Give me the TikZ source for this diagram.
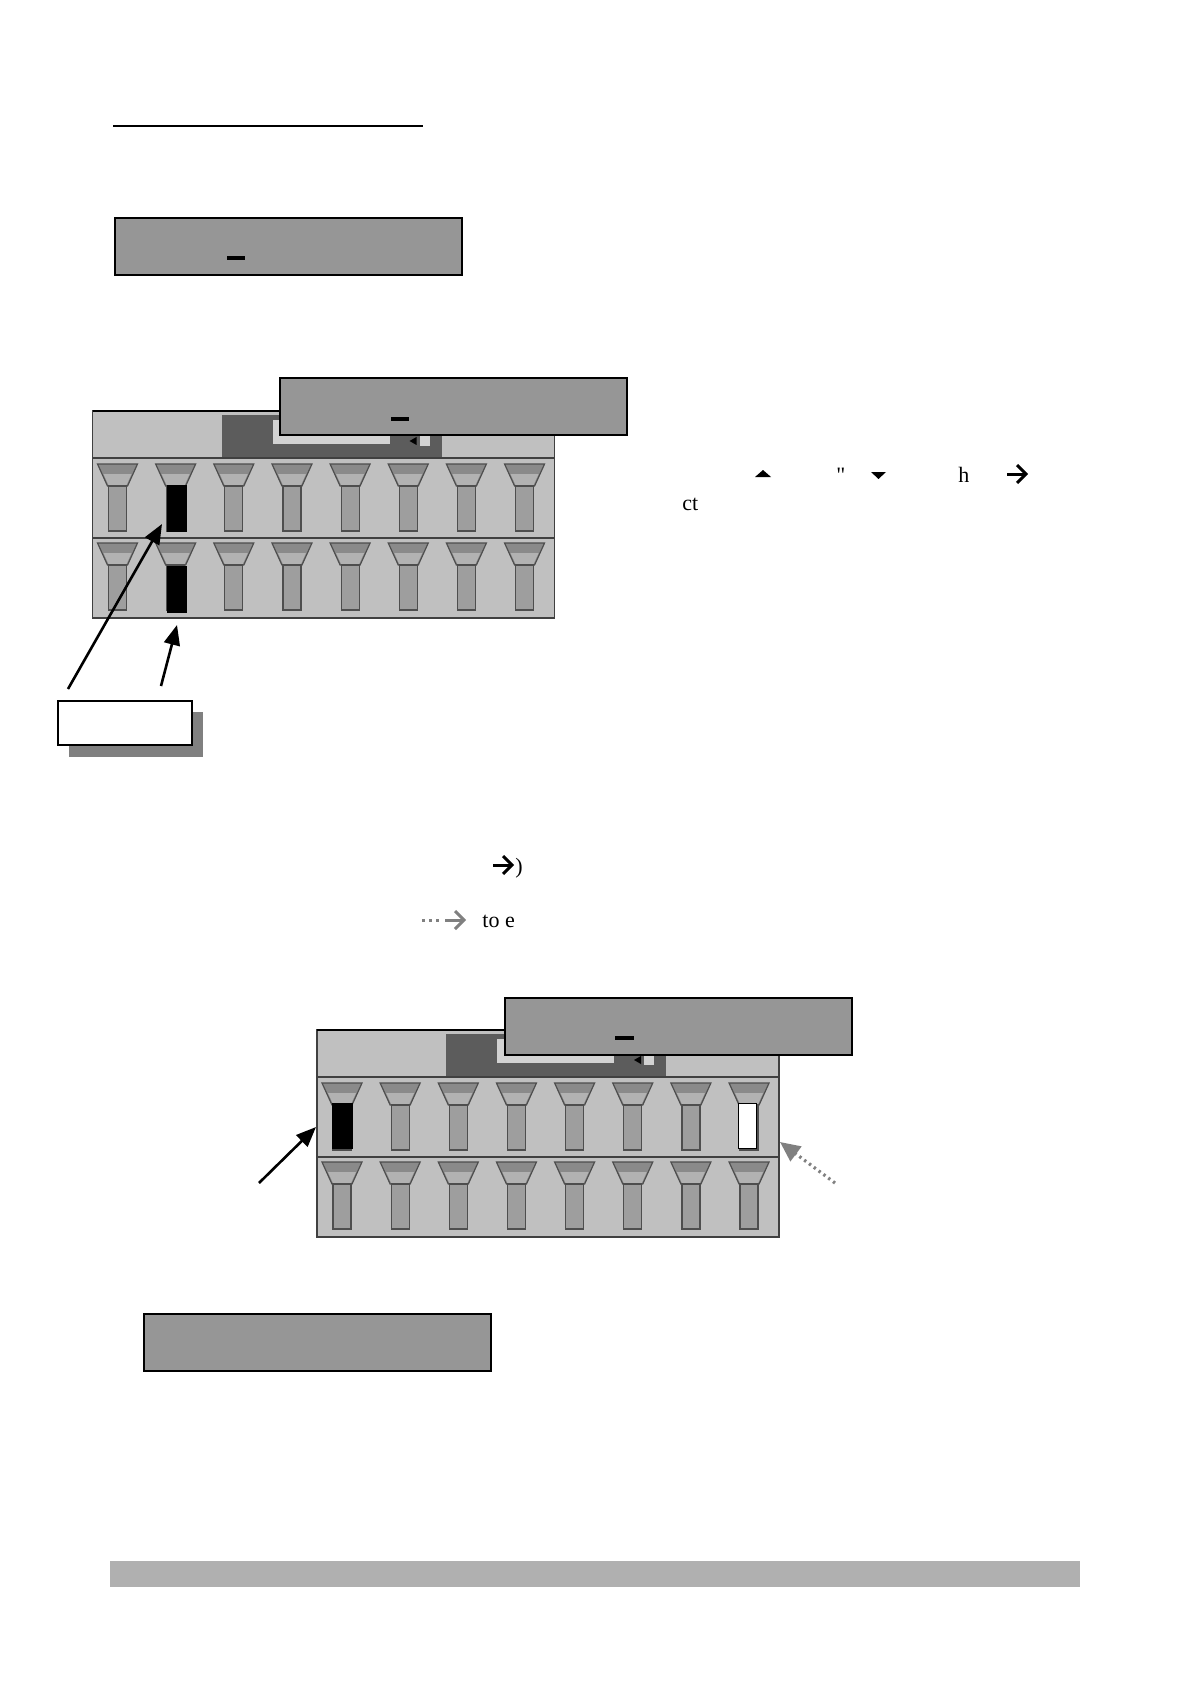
\documentclass[tikz,border=0pt]{standalone}
\usepackage{fontspec}
\setmainfont{Liberation Serif}[Ligatures=TeXOff]
\usetikzlibrary{arrows.meta}

\definecolor{lcdgray}{RGB}{150,150,150}
\definecolor{panelgray}{RGB}{192,192,192}
\definecolor{paneldark}{RGB}{92,92,92}
\definecolor{lcdlight}{RGB}{210,210,210}
\definecolor{faderedge}{RGB}{78,78,78}
\definecolor{funnelgray}{RGB}{138,138,138}
\definecolor{funnellight}{RGB}{178,178,178}
\definecolor{stemgray}{RGB}{158,158,158}
\definecolor{shadowgray}{RGB}{128,128,128}
\definecolor{footgray}{RGB}{176,176,176}

\tikzset{
  lcdbox/.style={draw=black, line width=1pt, fill=lcdgray, anchor=north west,
    minimum width=173.5pt, minimum height=28.5pt, inner sep=0pt},
  callbox/.style={draw=black, line width=0.8pt, fill=white, anchor=north west,
    minimum width=67pt, minimum height=22pt, inner sep=0pt},
  faderline/.style={draw=faderedge, line width=0.6pt},
  panelline/.style={draw=black!75, line width=0.8pt},
  cursor/.style={line width=1.6pt},
  callarrow/.style={line width=1.3pt, -{Triangle[length=10pt,width=8pt]}},
  hintarrow/.style={line width=1.6pt, shadowgray, dash pattern=on 1.2pt off 1.8pt,
    -{Triangle[length=10pt,width=9pt]}},
  chevron/.style={line width=1.5pt, miter limit=10},
  txt/.style={anchor=base west, inner sep=0pt, font=\fontsize{11}{13}\selectfont}
}

% one fader: centre x, top y
\newcommand{\fader}[2]{%
  \draw[faderline, fill=funnelgray] ({#1-20},{#2}) -- ({#1+20},{#2}) -- ({#1+10},{#2+22}) -- ({#1-10},{#2+22}) -- cycle;
  \fill[funnellight] ({#1-14},{#2+10}) -- ({#1+14},{#2+10}) -- ({#1+9},{#2+21}) -- ({#1-9},{#2+21}) -- cycle;
  \draw[faderline, fill=stemgray] ({#1-9},{#2+22}) rectangle ({#1+9},{#2+67});
}

% mixer screen: left x, top y
\newcommand{\mixpanel}[2]{%
  \draw[panelline, fill=panelgray] ({#1},{#2}) rectangle ({#1+462},{#2+207});
  \fill[paneldark] ({#1+129},{#2+4}) rectangle ({#1+349},{#2+46});
  \fill[lcdlight] ({#1+180},{#2+9}) rectangle ({#1+297},{#2+33});
  \fill[black] ({#1+317},{#2+30}) -- ({#1+324},{#2+26}) -- ({#1+324},{#2+34}) -- cycle;
  \fill[lcdlight] ({#1+327},{#2+25}) rectangle ({#1+337},{#2+35});
  \draw[black, line width=1.3pt] ({#1},{#2}) -- ({#1+462},{#2});
  \draw[panelline] ({#1},{#2+47}) -- ({#1+462},{#2+47});
  \draw[panelline] ({#1},{#2+127}) -- ({#1+462},{#2+127});
  \foreach \col in {0,...,7} {
    \fader{#1+25+58.15*\col}{#2+53}
    \fader{#1+25+58.15*\col}{#2+132}
  }
}

\begin{document}
\begin{tikzpicture}[x=0.5pt, y=-0.5pt]
  \useasboundingbox (0,0) rectangle (1190,1684);

  % heading rule
  \draw[line width=0.9pt] (113,126) -- (423,126);

  % first display
  \node[lcdbox] (lcdA) at (114,217) {};
  \draw[cursor] (227,258) -- (245,258);

  % mixer screen 1
  \mixpanel{92.5}{411}
  \draw[fill=black] (167,485) rectangle (186,531);
  \draw[fill=black] (167,566) rectangle (186,612);
  \node[lcdbox] (lcdB) at (279,377) {};
  \draw[cursor] (391,419) -- (409,419);

  % callout
  \fill[shadowgray] (69,712) rectangle (203,757);
  \node[callbox] (callout) at (57,700) {};
  \coordinate (tailA) at (68,689);
  \coordinate (tipA) at (162,524);
  \coordinate (tailB) at (161,686);
  \coordinate (tipB) at (177,625);
  \draw[callarrow] (tailA) -- (tipA);
  \draw[callarrow] (tailB) -- (tipB);

  % text right of screen 1
  \fill (755,477) -- (771,477) -- (763,470) -- cycle;
  \node[txt] (quote) at (836,482) {"};
  \fill (871,472) -- (886,472) -- (878.5,479) -- cycle;
  \node[txt] (hword) at (958,482) {h};
  \draw[chevron] (1007,474) -- (1026,474);
  \draw[chevron] (1017,465) -- (1026,474) -- (1017,483);
  \node[txt] (ctword) at (682,510) {ct};

  % legend lines
  \draw[chevron] (493,865) -- (512,865);
  \draw[chevron] (503,856) -- (512,865) -- (503,874);
  \node[txt] (paren) at (515,873) {)};
  \draw[shadowgray, line width=1.5pt, dash pattern=on 1.5pt off 2pt] (422,920) -- (442,920);
  \draw[chevron, shadowgray] (445,920) -- (464,920);
  \draw[chevron, shadowgray] (455,911) -- (464,920) -- (455,929);
  \node[txt] (toe) at (482,927) {to e};

  % mixer screen 2
  \mixpanel{317}{1030}
  \draw[fill=black] (332,1103) rectangle (352,1148);
  \draw[fill=white] (738,1103) rectangle (756,1148);
  \node[lcdbox] (lcdC) at (504,997) {};
  \draw[cursor] (615,1038) -- (634,1038);
  \coordinate (tailC) at (259,1183);
  \coordinate (tipC) at (316,1127);
  \coordinate (tailD) at (835,1183);
  \coordinate (tipD) at (780,1142);
  \draw[callarrow] (tailC) -- (tipC);
  \draw[hintarrow] (tailD) -- (tipD);

  % last display
  \node[lcdbox] (lcdD) at (143,1313) {};

  % footer bar
  \fill[footgray] (110,1561) rectangle (1080,1587);
\end{tikzpicture}
\end{document}
